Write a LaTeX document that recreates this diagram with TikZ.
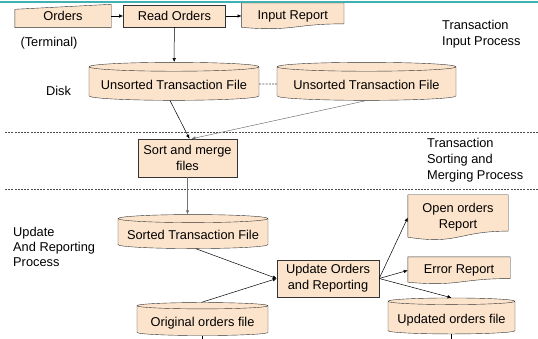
\documentclass[tikz,border=0pt]{standalone}
\usepackage{fontspec}
\setmainfont{Liberation Sans}
\usetikzlibrary{shapes.geometric, arrows.meta, positioning, backgrounds, calc}

\definecolor{peach}{RGB}{252,228,204}
\definecolor{rulecol}{RGB}{64,176,176}

\begin{document}
\begin{tikzpicture}[
    x=1pt, y=-1pt,
    font=\fontsize{12.8}{16}\selectfont,
    procbox/.style={rectangle, draw=black!80, fill=peach, align=center, inner sep=1pt},
    diskfile/.style={cylinder, shape border rotate=90, aspect=0.06, draw=black!80, fill=peach, inner sep=1pt, text height=14pt, text depth=2.5pt},
    docbox/.style={rectangle, align=center, inner sep=1pt},
    lbl/.style={align=left, anchor=west, inner sep=0pt},
    arrow/.style={-{Latex[length=4pt,width=3.5pt]}, draw=black, line width=0.5pt},
    greyarrow/.style={arrow, draw=black!55},
    divider/.style={dash pattern=on 2pt off 1.2pt, draw=black!70, line width=0.6pt},
]
\useasboundingbox (0,0) rectangle (538,339);
\draw[rulecol, line width=1.2pt] (0,2) -- (538,2);

% input stage
\node[docbox, minimum width=96pt, minimum height=23pt] (orders) at (63,16) {Orders};
\node[procbox, minimum width=102pt, minimum height=22pt, right=12pt of orders] (readord) {Read Orders};
\node[docbox, minimum width=102pt, minimum height=25.7pt, right=16pt of readord] (inrep) {Input Report};
\node (term) at (49,43) {(Terminal)};
\node[diskfile, minimum width=170pt, minimum height=38pt] (utf1) at (174,84) {Unsorted Transaction File};
\node[diskfile, minimum width=179pt, minimum height=38pt] (utf2) at (366.5,84) {Unsorted Transaction File};
\node (disk) at (58.5,91) {Disk};
\node[lbl] (tiplbl) at (442,34) {Transaction\\Input Process};

% sorting stage
\node[procbox, minimum width=99pt, minimum height=38pt] (sortbox) at (187.5,158) {Sort and merge\\files};
\node[lbl] (tsmlbl) at (427,160) {Transaction\\Sorting and\\Merging Process};

% update stage
\node[diskfile, minimum width=150pt, minimum height=34pt] (sorted) at (193,234) {Sorted Transaction File};
\node[diskfile, minimum width=131pt, minimum height=33pt] (orig) at (202.5,321) {Original orders file};
\node[procbox, minimum width=102pt, minimum height=37pt] (update) at (328,278.5) {Update Orders\\and Reporting};
\node[docbox, minimum width=100pt, minimum height=45pt] (openrep) at (458,217.5) {Open orders\\Report};
\node[docbox, minimum width=102pt, minimum height=26.8pt] (errrep) at (459,270.4) {Error Report};
\node[diskfile, minimum width=127pt, minimum height=36pt] (updated) at (451.5,318) {Updated orders file};
\node[lbl, font=\fontsize{12.8}{15}\selectfont] (uarlbl) at (13,247) {Update\\And Reporting\\Process};

% outlines of the terminal and report shapes
\begin{scope}[on background layer]
  \draw[draw=black!80, fill=peach] (orders.south west) -- (orders.south east)
    -- (orders.north east) -- ($(orders.north west)+(0,5)$) -- cycle;
  \foreach \d in {inrep, openrep, errrep}{
    \draw[draw=black!80, fill=peach]
      let \p1=(\d.north west), \p2=(\d.south east) in
      (\x1,\y1) -- (\x2,\y1) -- (\x2,{\y1+0.80*(\y2-\y1)})
      .. controls ({0.5*(\x1+\x2)},{\y1+0.80*(\y2-\y1)}) and ({0.5*(\x1+\x2)},{\y1+1.107*(\y2-\y1)})
      .. (\x1,{\y1+0.934*(\y2-\y1)}) -- cycle;
  }
\end{scope}

% stage dividers
\draw[divider] (5,132) -- (538,132);
\draw[divider] (5,189) -- (538,189);

\coordinate (bottom) at (0,339);

\draw[arrow] (orders) -- (readord);
\draw[arrow] (readord) -- (inrep);
\draw[arrow] (readord) -- (utf1);
\draw[divider] (utf1) -- (utf2);
\draw[arrow] ([xshift=-4pt]utf1.south) -- ([xshift=2pt]sortbox.north);
\draw[greyarrow] (utf2.south) -- ([xshift=4pt]sortbox.north);
\draw[greyarrow] (sortbox.south) -- (sortbox.south |- sorted.north);
\draw[arrow] ([xshift=3pt]sorted.south) -- (update.west);
\draw[arrow] ([xshift=-1pt]orig.north) -- (update.west);
\draw[arrow] (update.east) -- (openrep.west);
\draw[arrow] (update.east) -- (errrep.west);
\draw[arrow] (update.east) -- (updated.north);
\draw (orig.south) -- (orig.south |- bottom);
\draw (updated.south) -- (updated.south |- bottom);
\end{tikzpicture}
\end{document}
